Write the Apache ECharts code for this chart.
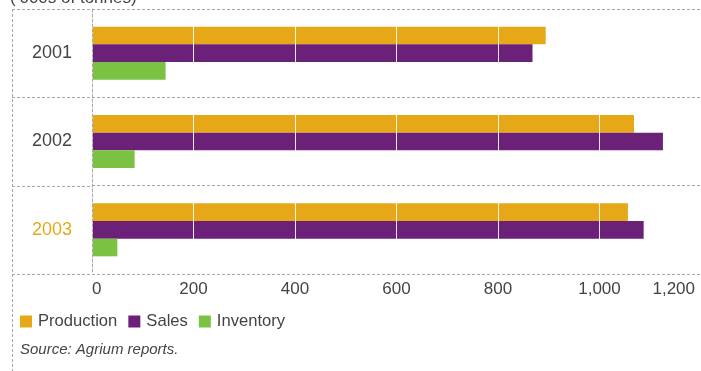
<!DOCTYPE html>
<html>
<head>
<meta charset="utf-8">
<script src="https://cdn.jsdelivr.net/npm/echarts@6/dist/echarts.min.js"></script>
<style>
html,body{margin:0;padding:0;background:#fff;}
#chart{width:701px;height:371px;}
</style>
</head>
<body>
<div id="chart"></div>
<script>
var years = ['2001', '2002', '2003'];
var production = [894, 1068, 1056];
var sales = [868, 1125, 1087];
var inventory = [145, 84, 50];
var xTicks = [0, 200, 400, 600, 800, 1000, 1200];
var unitsText = '(\u2019000s of tonnes)';
var sourceText = 'Source: Agrium reports.';

var GRID = {left: 92, top: 9, width: 612, height: 265};
var dashColor = '#a8a8a8';
var dash = [3, 2];
var font = 'Liberation Sans, Arial, Helvetica, sans-serif';

var chart = echarts.init(document.getElementById('chart'), null, {renderer: 'canvas'});

function fmt(v) {
  return String(v).replace(/\B(?=(\d{3})+(?!\d))/g, ',');
}

var leftLines = [];
leftLines.push({
  type: 'line', silent: true,
  shape: {x1: 12.5, y1: GRID.top, x2: 12.5, y2: 371},
  style: {stroke: dashColor, lineWidth: 1, lineDash: dash}
});
for (var i = 0; i <= years.length; i++) {
  var y = Math.round(GRID.top + i * GRID.height / years.length) + 0.5;
  leftLines.push({
    type: 'line', silent: true,
    shape: {x1: 12, y1: y, x2: GRID.left, y2: y},
    style: {stroke: dashColor, lineWidth: 1, lineDash: dash}
  });
}

var option = {
  animation: false,
  textStyle: {fontFamily: font},
  title: [
    {text: unitsText, left: 10, top: -10, padding: 0,
     textStyle: {fontSize: 17, fontWeight: 'normal', color: '#444', fontFamily: font}},
    {text: sourceText, left: 20, top: 342, padding: 0,
     textStyle: {fontSize: 15, fontWeight: 'normal', fontStyle: 'italic', color: '#444', fontFamily: font}}
  ],
  legend: {
    left: 20, top: 313, padding: 0,
    icon: 'rect', itemWidth: 12, itemHeight: 12, itemGap: 11,
    textStyle: {fontSize: 16.6, color: '#444', fontFamily: font, padding: [0, 0, 0, 1]},
    data: ['Production', 'Sales', 'Inventory']
  },
  grid: {left: GRID.left, top: GRID.top, width: GRID.width, height: GRID.height, containLabel: false},
  xAxis: {
    type: 'value', min: xTicks[0], max: xTicks[xTicks.length - 1], interval: 200,
    z: 3,
    axisLine: {show: false}, axisTick: {show: false},
    splitLine: {show: true, lineStyle: {color: 'rgba(255,255,255,0.9)', width: 1}},
    axisLabel: {
      margin: 7, fontSize: 17, color: '#444', fontFamily: font,
      alignMinLabel: 'left', alignMaxLabel: 'right',
      formatter: function (v) {
        if (v === xTicks[xTicks.length - 1]) return '{last|' + fmt(v) + '}';
        return fmt(v);
      },
      rich: {last: {fontSize: 17, color: '#444', fontFamily: font, padding: [0, 6, 0, 0]}}
    }
  },
  yAxis: {
    type: 'category', data: years, inverse: true, z: 4,
    axisLine: {show: true, lineStyle: {color: dashColor, type: dash, width: 1}},
    axisTick: {show: false},
    splitLine: {show: true, lineStyle: {color: dashColor, type: dash, width: 1}},
    axisLabel: {
      margin: 40, align: 'center', fontSize: 18, fontFamily: font,
      color: function (v) { return v === '2003' ? '#E6A817' : '#444'; }
    }
  },
  series: [
    {name: 'Production', type: 'bar', data: production, barGap: '0%', barCategoryGap: '40%',
     itemStyle: {color: '#E6A817'}},
    {name: 'Sales', type: 'bar', data: sales, barGap: '0%', barCategoryGap: '40%',
     itemStyle: {color: '#6B2178'}},
    {name: 'Inventory', type: 'bar', data: inventory, barGap: '0%', barCategoryGap: '40%',
     itemStyle: {color: '#7CC242'}}
  ],
  graphic: leftLines
};
chart.setOption(option);
</script>
</body>
</html>
